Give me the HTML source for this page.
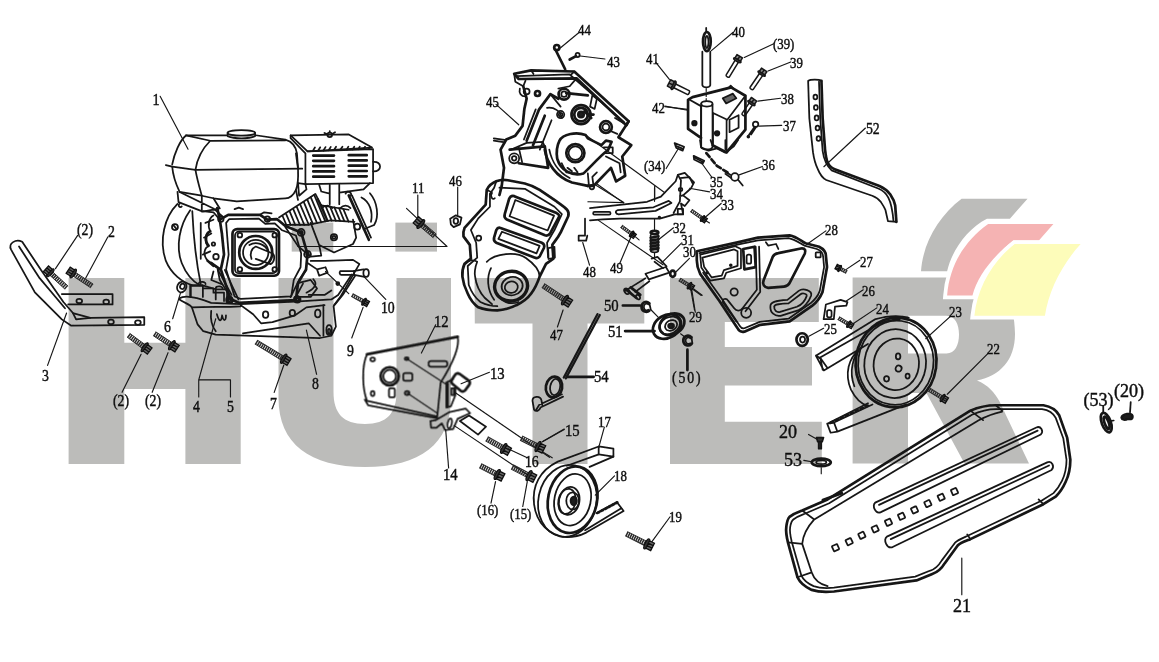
<!DOCTYPE html>
<html><head><meta charset="utf-8">
<style>
html,body{margin:0;padding:0;background:#fff;}
body{width:1159px;height:662px;overflow:hidden;font-family:"Liberation Serif",serif;}
svg{display:block;position:absolute;left:0;top:0;}
.wm{fill:#bcbcba;stroke:none;}
.p{fill:none;stroke:#151515;stroke-width:1.75;stroke-linecap:round;stroke-linejoin:round;vector-effect:non-scaling-stroke;}
.p path,.p line,.p polyline,.p ellipse,.p circle,.p rect,.p polygon{vector-effect:non-scaling-stroke;}
.w{fill:#fff;}
.k{fill:#1a1a1a;}
.t{stroke-width:2.7;}
.h{stroke-width:1.15;}
text{font-family:"Liberation Serif",serif;fill:#111;stroke:#111;stroke-width:0.45;transform-box:fill-box;transform-origin:0 50%;transform:scaleX(0.95);}
text.n{transform:scaleX(0.85);}
</style></head><body>
<svg width="1159" height="662" viewBox="0 0 1159 662">
<defs>
<filter id="soft" x="0" y="0" width="1159" height="662" filterUnits="userSpaceOnUse"><feGaussianBlur stdDeviation="0.4"/></filter>
</defs>
<!-- WATERMARK -->
<g class="wm">
<path d="M68.6 278H124.3V342.7H185.4V278H240.7V464H185.4V389H124.3V464H68.6Z"/>
<rect x="291.7" y="222.6" width="41.6" height="29"/>
<rect x="395.4" y="222.6" width="41.6" height="29"/>
<path d="M278.5 278H333.5V392C333.5 413 343 424 365 424C387 424 396.5 413 396.5 392V278H451V398C451 444 420 467 365 467C310 467 278.5 444 278.5 398Z"/>
<path d="M474.5 278H644.3V323.5H587.5V464H532.5V323.5H474.8Z"/>
<path d="M670 278H818.8V322H724.8V347H812V385.5H724.8V421.8H821.8V464H670Z"/>
<path fill-rule="evenodd" d="M852.6 277.5H970C1000 277.5 1015 300 1015 334C1015 360 1000 376 977 380.5C988 385 995 393 999.4 401.3L1029 463.5H964.5L926.4 393H908V463.5H852.6ZM908 315.7H946.5C955 315.7 959 324 959 334.5C959 345 955 353.4 946.5 353.4H908Z"/>
<path transform="translate(900,180) scale(0.24155)" d="M255 78H528L455 160H360C280 200 215 290 195 378H87C95 260 160 150 255 78Z"/>
</g>
<!-- logo colour blocks -->
<g transform="translate(900,180) scale(0.24155)" stroke-linejoin="miter">
<path d="M365 182H635L575 250H470C380 320 320 400 300 478H195C205 350 270 250 365 182Z" fill="#fff" stroke="#fff" stroke-width="32"/>
<path d="M365 182H635L575 250H470C380 320 320 400 300 478H195C205 350 270 250 365 182Z" fill="#f5b3b3"/>
<path d="M475 265H748C670 350 615 460 600 562H308C320 440 390 330 475 265Z" fill="#fff" stroke="#fff" stroke-width="32"/>
<path d="M475 265H748C670 350 615 460 600 562H308C320 440 390 330 475 265Z" fill="#fdfcba"/>
</g>
<g id="art" filter="url(#soft)">
<!-- engine top: region (150,90) k=4.729 -->
<g class="p" transform="translate(150,90) scale(0.21146)">
<!-- tank -->
<path d="M170 215L365 214M500 214L640 235C675 245 690 270 695 300L700 372C702 420 700 450 690 472C675 505 655 512 640 512L410 527L300 512L245 500L140 482C120 440 108 400 105 362L75 355M105 352C115 300 140 240 170 215"/>
<path d="M285 240L640 238M170 215L285 240C245 280 222 330 215 378C222 420 235 465 245 500"/>
<path d="M105 362L215 378L720 372"/>
<ellipse cx="432" cy="203" rx="65" ry="13"/>
<path d="M367 203V218C400 232 465 232 497 218V203"/>
<!-- tank support bottom -->
<path d="M130 482L135 530L250 575L330 560M245 500V575M140 482L300 560L345 600M300 512L330 560"/>
<!-- air filter -->
<path d="M665 215L940 210L1050 272L745 290Z"/>
<path d="M745 290L1055 280V440L735 445V300L665 228V215"/>
<path d="M690 300L700 372M735 445L700 440"/>
<g class="t">
<path d="M772 310H870M772 335H870M772 360H870M772 385H870M772 410H870M940 308H1025M940 333H1025M940 358H1025M940 383H1025M940 408H1025"/>
</g>
<path d="M770 288L780 272M795 287L805 271M820 286L830 270M845 285L855 269M870 284L880 268M900 283L910 268M930 282L938 268M958 281L966 268M985 280L992 268M1010 279L1017 268M1035 278L1040 268"/>
<path d="M1055 340C1098 335 1100 388 1055 385"/>
<circle cx="850" cy="212" r="11"/>
<path d="M825 203L840 210M875 200L860 209M850 195V201"/>
<!-- below air filter -->
<path d="M850 448V540M895 448V540M800 448L810 480L850 490M895 485L1010 470L1040 440"/>
<path d="M700 440L705 500L740 470L735 445M690 472L700 520"/>
<path d="M925 490A12 12 0 1 1 950 500"/>
<path class="h" d="M48 30L180 280"/>
</g>
<text class="n" x="152.5" y="105" font-size="16.7">1</text>
<!-- engine bottom: region (150,170) k=4.729 -->
<g class="p" transform="translate(150,170) scale(0.21146)">
<!-- recoil housing arcs -->
<path d="M130 160C70 220 40 330 75 430C100 490 150 530 200 545"/>
<path d="M190 190C140 260 120 360 150 440C170 490 200 525 235 545"/>
<path d="M200 195C205 300 215 420 240 540"/>
<circle cx="118" cy="270" r="14"/><path d="M110 260L127 281"/>
<!-- tank bracket -->
<path d="M140 160A8 8 0 1 0 150 172M250 195L300 200L330 235"/>
<!-- crankcase cover outer -->
<path class="t" d="M318 180L330 235L340 300L350 400L335 470L380 610L420 628L690 615L700 535L738 470L745 398L715 295L640 265L600 232L555 235L520 212L370 212L330 235"/>
<path d="M360 250L375 232L515 230L545 255L590 252L625 285L690 310L715 395L712 460L680 520L668 598L430 610L400 598L360 470L372 400L360 250"/>
<circle cx="335" cy="232" r="13"/><circle cx="555" cy="232" r="13"/><circle cx="715" cy="295" r="16"/><circle cx="715" cy="295" r="7"/>
<circle cx="745" cy="398" r="16"/><circle cx="745" cy="398" r="7"/><circle cx="695" cy="610" r="13"/><circle cx="378" cy="615" r="13"/>
<circle cx="312" cy="410" r="13"/><circle cx="300" cy="350" r="8"/>
<path d="M400 185L420 178L440 185M520 212L540 200L575 205"/>
<!-- left side bumps -->
<path class="t" d="M285 290C262 300 258 338 277 358M290 440L332 470"/>
<path d="M262 250L300 235M255 320L290 300M250 400L285 385M270 430L300 455M240 250V420"/>
<path d="M300 215C280 225 270 260 285 290C260 300 255 340 275 360C250 375 250 420 290 440L330 470"/>
<path d="M300 480L290 520L340 540M320 470L330 520L380 600"/>
<!-- central flange -->
<rect x="390" y="280" width="220" height="220" rx="22" class="t"/>
<rect x="402" y="292" width="196" height="196" rx="18"/>
<circle cx="500" cy="390" r="78" class="t"/><circle cx="500" cy="390" r="60"/>
<path d="M470 355C500 335 545 350 560 385M480 420C470 395 480 370 500 362M500 362L580 395M500 420L570 445M580 395C592 405 590 435 570 445"/>
<circle cx="425" cy="308" r="11"/><circle cx="590" cy="308" r="11"/><circle cx="425" cy="470" r="11"/><circle cx="590" cy="470" r="11"/>
<!-- fins -->
<g style="stroke-width:1.75"><path d="M628 220L645 260M644 209L666 260M661 197L687 260M678 186L709 260M694 174L730 260M710 163L751 259M727 151L770 255M744 140L790 251M760 128L810 247M776 117L829 243M793 135L838 241M810 165L841 241M830 170L859 239M852 174L879 240M872 177L899 241M894 181L919 242M914 184L939 244"/></g>
<path d="M610 225L782 113L810 167L939 188M632 260H746L853 238L967 245"/>
<!-- head block -->
<path d="M760 250L800 355L870 390L960 350L975 320L960 235M640 270L700 360L760 410L810 405L800 355"/>
<circle cx="870" cy="318" r="15"/><circle cx="870" cy="318" r="7"/>
<circle cx="980" cy="268" r="14"/>
<path d="M812 180C830 165 850 165 862 180M900 180C915 165 935 165 948 180"/>
<path class="t" d="M940 120L1035 330"/>
<path d="M955 120L1045 320M1040 110C1075 150 1085 220 1060 260L1010 280M1000 130C1040 150 1055 200 1045 245"/>
<!-- long leader line (11) -->
<!-- lower right: lever, pipe 10 -->
<path d="M760 430L830 430L960 425L990 445L900 600L870 640M745 440L790 470L830 460M790 470L800 500L840 485L830 460M700 535L760 520L790 560L760 600L700 600"/>
<path d="M900 478H960L1010 470M905 496H965L1015 505M900 478A8 10 0 0 0 905 496"/>
<ellipse cx="1022" cy="487" rx="13" ry="18"/>
<path d="M965 478V496"/>
<path class="h" d="M830 480L940 585"/>
<circle cx="888" cy="537" r="7" class="k"/>
<!-- mount left -->
<path d="M190 545H250V560H300V580H350V620M190 545V600M250 560V600M300 580L345 580"/>
</g>
<!-- base plate: region (150,270) k=4.4115 -->
<g class="p" transform="translate(150,270) scale(0.22668)">
<path d="M130 125C150 112 200 118 270 145L400 150L640 140L800 130L830 110L890 20"/>
<path d="M130 130C150 145 175 150 185 165L210 240L235 270L290 285L750 300L800 290L820 250L810 160L850 110L905 25"/>
<path d="M185 165C250 160 330 165 400 160M400 155L455 195L490 235L540 230L640 200L690 165L770 155"/>
<path d="M410 280L700 235L750 290M765 155V290M270 180C265 220 275 250 290 270"/>
<ellipse cx="510" cy="197" rx="12" ry="14"/><ellipse cx="628" cy="190" rx="12" ry="14"/><ellipse cx="740" cy="192" rx="12" ry="17"/>
<ellipse cx="790" cy="265" rx="12" ry="22"/><ellipse cx="790" cy="270" rx="5" ry="10"/>
<path d="M295 195C305 230 315 230 318 200M318 200C325 230 335 225 335 200"/>
<!-- mounts -->
<path d="M180 120V70H240M240 70L290 85V130M290 85H340V130M215 60A14 8 0 1 1 245 62M290 80A14 8 0 1 1 320 82"/>
<circle cx="350" cy="132" r="14"/><circle cx="650" cy="130" r="14"/><circle cx="350" cy="132" r="6"/><circle cx="650" cy="130" r="6"/>
<path d="M330 0L390 130M300 0L360 110M620 120L660 40L690 0M640 125L675 60M690 100C730 80 740 60 720 40M700 110H770L800 90"/>
<!-- washer 6 -->
<ellipse cx="140" cy="75" rx="20" ry="24" transform="rotate(25 140 75)"/><ellipse cx="143" cy="72" rx="10" ry="12" transform="rotate(25 143 72)"/>
<!-- leaders -->
<g class="h">
<path d="M100 215L135 100M1040 130L945 30M890 300L940 165M735 460L690 265M548 540L590 420M215 485H355V560M215 560V485L290 215"/>
</g>
</g>
<g transform="translate(256.0,342.0) rotate(31.2)"><path d="M0 0H31.5" stroke="#2a2a2a" stroke-width="4.6" stroke-dasharray="1.5 0.7" stroke-linecap="butt" fill="none"/><path d="M0 -2.3H31.5M0 2.3H31.5" stroke="#2a2a2a" stroke-width="0.9" fill="none"/><ellipse cx="32.4" cy="0" rx="1.7" ry="5.3" fill="#333" stroke="#111" stroke-width="1.2"/><path d="M33.3 -3.9H38.6V3.9H33.3ZM33.3 -1.3H38.6M33.3 1.3H38.6" fill="#666" stroke="#111" stroke-width="1.3"/></g>
<g transform="translate(352.0,295.0) rotate(29.4)"><path d="M0 0H13.1" stroke="#2a2a2a" stroke-width="3.4" stroke-dasharray="1.5 0.7" stroke-linecap="butt" fill="none"/><path d="M0 -1.7H13.1M0 1.7H13.1" stroke="#2a2a2a" stroke-width="0.9" fill="none"/><ellipse cx="13.8" cy="0" rx="1.3" ry="3.9" fill="#333" stroke="#111" stroke-width="1.2"/><path d="M14.4 -2.9H18.4V2.9H14.4ZM14.4 -1.0H18.4M14.4 1.0H18.4" fill="#666" stroke="#111" stroke-width="1.3"/></g>
<g id="lab3">
<text class="n" x="164" y="332" font-size="16.2">6</text>
<text class="n" x="381" y="313" font-size="16.2">10</text>
<text class="n" x="347" y="356" font-size="16.2">9</text>
<text class="n" x="312" y="389" font-size="16.2">8</text>
<text class="n" x="270" y="409" font-size="16.2">7</text>
<text class="n" x="193" y="412" font-size="16.2">4</text>
<text class="n" x="227" y="412" font-size="16.2">5</text>
</g>
<!-- bracket 3: region (0,210) k=3.1538 -->
<g class="p" transform="translate(0,210) scale(0.31707)">
<path d="M35 125C25 105 50 90 70 100L130 190L200 290L230 325L285 340L455 338V362L225 365L195 345L110 260Z"/>
<path d="M195 265H355V298H215M230 325L240 345L285 340M60 115L125 215L205 310"/>
<ellipse cx="250" cy="287" rx="9" ry="7"/><ellipse cx="335" cy="290" rx="9" ry="7"/><ellipse cx="350" cy="353" rx="9" ry="7"/><ellipse cx="435" cy="355" rx="9" ry="7"/>
<g class="h"><path d="M245 80L175 185M340 85L270 215M150 490L210 325M385 575L445 455M480 575L530 450"/></g>
</g>
<g transform="translate(66.6,287.7) rotate(-137.3)"><path d="M0 0H21.2" stroke="#2a2a2a" stroke-width="4.4" stroke-dasharray="1.5 0.7" stroke-linecap="butt" fill="none"/><path d="M0 -2.2H21.2M0 2.2H21.2" stroke="#2a2a2a" stroke-width="0.9" fill="none"/><ellipse cx="22.1" cy="0" rx="1.7" ry="5.1" fill="#333" stroke="#111" stroke-width="1.2"/><path d="M23.0 -3.7H28.0V3.7H23.0ZM23.0 -1.2H28.0M23.0 1.2H28.0" fill="#666" stroke="#111" stroke-width="1.3"/></g>
<g transform="translate(92.0,286.0) rotate(-146.4)"><path d="M0 0H21.7" stroke="#2a2a2a" stroke-width="4.4" stroke-dasharray="1.5 0.7" stroke-linecap="butt" fill="none"/><path d="M0 -2.2H21.7M0 2.2H21.7" stroke="#2a2a2a" stroke-width="0.9" fill="none"/><ellipse cx="22.6" cy="0" rx="1.7" ry="5.1" fill="#333" stroke="#111" stroke-width="1.2"/><path d="M23.5 -3.7H28.6V3.7H23.5ZM23.5 -1.2H28.6M23.5 1.2H28.6" fill="#666" stroke="#111" stroke-width="1.3"/></g>
<g transform="translate(128.4,335.2) rotate(36.6)"><path d="M0 0H19.4" stroke="#2a2a2a" stroke-width="4.6" stroke-dasharray="1.5 0.7" stroke-linecap="butt" fill="none"/><path d="M0 -2.3H19.4M0 2.3H19.4" stroke="#2a2a2a" stroke-width="0.9" fill="none"/><ellipse cx="20.3" cy="0" rx="1.7" ry="5.3" fill="#333" stroke="#111" stroke-width="1.2"/><path d="M21.2 -3.9H26.5V3.9H21.2ZM21.2 -1.3H26.5M21.2 1.3H26.5" fill="#666" stroke="#111" stroke-width="1.3"/></g>
<g transform="translate(154.4,333.7) rotate(33.4)"><path d="M0 0H19.9" stroke="#2a2a2a" stroke-width="4.6" stroke-dasharray="1.5 0.7" stroke-linecap="butt" fill="none"/><path d="M0 -2.3H19.9M0 2.3H19.9" stroke="#2a2a2a" stroke-width="0.9" fill="none"/><ellipse cx="20.9" cy="0" rx="1.7" ry="5.3" fill="#333" stroke="#111" stroke-width="1.2"/><path d="M21.8 -3.9H27.1V3.9H21.8ZM21.8 -1.3H27.1M21.8 1.3H27.1" fill="#666" stroke="#111" stroke-width="1.3"/></g>
<g>
<text class="n" x="77" y="235" font-size="16.2">(2)</text>
<text class="n" x="108" y="237" font-size="16.2">2</text>
<text class="n" x="42" y="381" font-size="16.2">3</text>
<text class="n" x="113" y="406" font-size="16.2">(2)</text>
<text class="n" x="145" y="406" font-size="16.2">(2)</text>
</g>
<!-- plate 12..16, spring 54: region (350,310) k=4.4115 -->
<g class="p" transform="translate(350,310) scale(0.22668)">
<path class="t" d="M75 195L475 118"/>
<path d="M475 118C485 160 450 240 400 320L385 470L75 400C55 350 50 250 75 195M65 395L80 420L385 478V470"/>
<circle cx="175" cy="292" r="40" class="t"/><circle cx="175" cy="292" r="28"/>
<ellipse cx="100" cy="218" rx="10" ry="8"/><ellipse cx="250" cy="215" rx="8" ry="6"/><ellipse cx="100" cy="368" rx="8" ry="11"/><ellipse cx="252" cy="366" rx="10" ry="9"/>
<rect x="235" y="278" width="40" height="34" rx="9"/><rect x="172" y="345" width="26" height="40" rx="6"/><rect x="347" y="225" width="82" height="25" rx="10"/>
<path class="h" d="M250 215L420 325M252 366L385 455"/>
<!-- 13 -->
<path class="t" d="M465 284C470 278 478 278 484 282L522 310C530 316 530 324 526 330L508 354C502 360 494 360 488 356L452 326C446 320 446 312 450 306Z"/>
<path d="M425 320V430L445 425L465 375V340M425 320L455 305M447 345H458V375H447Z"/>
<path class="t" d="M430 325V425"/>
<!-- 14 -->
<path d="M355 490L380 485L440 450L510 435L530 455L475 480L455 525L420 530L405 500L380 520H358Z"/>
<ellipse cx="440" cy="500" rx="9" ry="22" transform="rotate(12 440 500)"/>
<path d="M485 490L525 465L600 515L565 550Z"/>
<path class="h" d="M465 365L880 650M460 510L812 747"/>
<!-- spring 54 -->
<path style="stroke-width:2.2" d="M1092 18L943 298M1102 22L952 302"/>
<ellipse cx="900" cy="340" rx="36" ry="46" class="t" transform="rotate(10 900 340)"/><ellipse cx="905" cy="340" rx="22" ry="36" transform="rotate(10 905 340)"/>
<path d="M935 372L835 418L820 442M940 382L840 430M805 400C805 380 840 375 845 400L848 420M805 400L812 440C820 450 835 445 840 432"/>
<g class="h"><path d="M378 65L315 190M615 275L490 325M945 525L850 580M940 0L915 75"/></g>
<path class="t" d="M1075 295H958"/>
</g>
<g transform="translate(521.1,438.1) rotate(26.5)"><path d="M0 0H17.9" stroke="#2a2a2a" stroke-width="4.8" stroke-dasharray="1.5 0.7" stroke-linecap="butt" fill="none"/><path d="M0 -2.4H17.9M0 2.4H17.9" stroke="#2a2a2a" stroke-width="0.9" fill="none"/><ellipse cx="18.9" cy="0" rx="1.8" ry="5.5" fill="#333" stroke="#111" stroke-width="1.2"/><path d="M19.8 -4.1H25.4V4.1H19.8ZM19.8 -1.4H25.4M19.8 1.4H25.4" fill="#666" stroke="#111" stroke-width="1.3"/></g>
<g transform="translate(486.7,438.8) rotate(29.6)"><path d="M0 0H18.7" stroke="#2a2a2a" stroke-width="4.8" stroke-dasharray="1.5 0.7" stroke-linecap="butt" fill="none"/><path d="M0 -2.4H18.7M0 2.4H18.7" stroke="#2a2a2a" stroke-width="0.9" fill="none"/><ellipse cx="19.6" cy="0" rx="1.8" ry="5.5" fill="#333" stroke="#111" stroke-width="1.2"/><path d="M20.6 -4.1H26.1V4.1H20.6ZM20.6 -1.4H26.1M20.6 1.4H26.1" fill="#666" stroke="#111" stroke-width="1.3"/></g>
<g>
<text class="n" x="434" y="327" font-size="17.3">12</text>
<text class="n" x="490" y="379" font-size="17.3">13</text>
<text class="n" x="565" y="436" font-size="17.3">15</text>
<text class="n" x="594" y="382" font-size="17.3">54</text>
<text class="n" x="550" y="340" font-size="15.1">47</text>
</g>
<!-- pulley 17/18: region (440,400) k=4.4115 -->
<g class="p" transform="translate(440,400) scale(0.22668)">
<!-- belt -->
<path d="M700 205L765 215V250L700 240ZM700 205L520 272C440 310 405 380 415 460C425 540 480 600 560 605C600 605 625 595 645 585L810 490L780 450L690 500"/>
<path d="M765 250L660 295M700 240L560 290M640 575L800 478"/>
<path class="t" d="M695 498L782 452" stroke-dasharray="2 2.2"/>
<!-- pulley -->
<ellipse cx="562" cy="445" rx="128" ry="160" transform="rotate(12 562 445)"/>
<ellipse cx="585" cy="440" rx="108" ry="148" transform="rotate(12 585 440)" class="t"/>
<ellipse cx="585" cy="440" rx="80" ry="115" transform="rotate(12 585 440)"/>
<ellipse cx="570" cy="445" rx="45" ry="62" transform="rotate(12 570 445)"/>
<ellipse cx="560" cy="447" rx="38" ry="56" transform="rotate(12 560 447)"/>
<ellipse cx="590" cy="445" rx="14" ry="19" class="k"/>
<ellipse cx="585" cy="445" rx="28" ry="38"/>
<g class="h"><path d="M548 130L450 185M725 120L700 210M385 255L300 215M38 300L25 130M770 335L685 420M225 455L245 360M365 470L385 360M1015 515L935 625M455 230L495 255"/></g>
</g>
<g transform="translate(480.3,465.7) rotate(27.5)"><path d="M0 0H18.1" stroke="#2a2a2a" stroke-width="4.8" stroke-dasharray="1.5 0.7" stroke-linecap="butt" fill="none"/><path d="M0 -2.4H18.1M0 2.4H18.1" stroke="#2a2a2a" stroke-width="0.9" fill="none"/><ellipse cx="19.1" cy="0" rx="1.8" ry="5.5" fill="#333" stroke="#111" stroke-width="1.2"/><path d="M20.1 -4.1H25.6V4.1H20.1ZM20.1 -1.4H25.6M20.1 1.4H25.6" fill="#666" stroke="#111" stroke-width="1.3"/></g>
<g transform="translate(512.1,466.9) rotate(27.5)"><path d="M0 0H18.1" stroke="#2a2a2a" stroke-width="4.8" stroke-dasharray="1.5 0.7" stroke-linecap="butt" fill="none"/><path d="M0 -2.4H18.1M0 2.4H18.1" stroke="#2a2a2a" stroke-width="0.9" fill="none"/><ellipse cx="19.1" cy="0" rx="1.8" ry="5.5" fill="#333" stroke="#111" stroke-width="1.2"/><path d="M20.1 -4.1H25.6V4.1H20.1ZM20.1 -1.4H25.6M20.1 1.4H25.6" fill="#666" stroke="#111" stroke-width="1.3"/></g>
<g transform="translate(626.3,533.7) rotate(26.7)"><path d="M0 0H22.0" stroke="#2a2a2a" stroke-width="4.8" stroke-dasharray="1.5 0.7" stroke-linecap="butt" fill="none"/><path d="M0 -2.4H22.0M0 2.4H22.0" stroke="#2a2a2a" stroke-width="0.9" fill="none"/><ellipse cx="22.9" cy="0" rx="1.8" ry="5.5" fill="#333" stroke="#111" stroke-width="1.2"/><path d="M23.9 -4.1H29.4V4.1H23.9ZM23.9 -1.4H29.4M23.9 1.4H29.4" fill="#666" stroke="#111" stroke-width="1.3"/></g>
<g>
<text class="n" x="598" y="427" font-size="15.1">17</text>
<text class="n" x="525" y="467" font-size="16.2">16</text>
<text class="n" x="443" y="480" font-size="17.3">14</text>
<text class="n" x="614" y="481" font-size="15.1">18</text>
<text class="n" x="477" y="515" font-size="15.1">(16)</text>
<text class="n" x="510" y="519" font-size="15.1">(15)</text>
<text class="n" x="669" y="522" font-size="15.1">19</text>
</g>
<!-- housing 45 top: region (470,50) k=4.4136 -->
<g class="p" transform="translate(470,50) scale(0.22657)">
<!-- top frame -->
<path class="t" d="M195 105L270 90L460 95L700 315L690 332L470 125L215 128Z"/>
<path d="M205 115L440 108L680 318M195 105L200 140L235 160L245 135M470 125L440 160L390 170M270 90L280 105M460 95L445 110"/>
<path d="M540 200L560 215L550 260L530 250ZM640 300L690 330L700 315"/>
<!-- left jagged outline -->
<path class="t" d="M235 160L250 215L240 260L232 335L200 378L160 395L135 440L150 520L140 600L130 640"/>
<path d="M220 170C215 190 225 205 245 205"/>
<path d="M105 390L160 398M105 400L155 408"/>
<circle cx="250" cy="183" r="13"/><circle cx="298" cy="192" r="11" class="t"/>
<!-- ribs -->
<path class="t" d="M305 262L250 400M330 290L278 420M305 262L355 195L390 215"/>
<path d="M360 310L308 440M355 195L400 250M290 262L238 395M340 255C370 250 400 270 405 300"/>
<circle cx="195" cy="478" r="22"/><circle cx="195" cy="478" r="10"/>
<path class="t" d="M175 440L330 425L345 520L215 500"/>
<path d="M215 430L230 495M250 410L320 405L330 425M180 440L250 410"/>
<!-- gears -->
<circle cx="490" cy="285" r="42" class="t"/><circle cx="490" cy="285" r="30" class="t"/><circle cx="490" cy="285" r="14" class="k"/>
<path class="t" d="M505 270L535 300M520 285H545"/>
<circle cx="415" cy="195" r="24" class="t"/><circle cx="415" cy="195" r="12"/>
<path class="t" d="M425 190L520 200"/>
<circle cx="400" cy="285" r="16"/><circle cx="400" cy="285" r="8"/>
<circle cx="600" cy="340" r="26" class="t"/><circle cx="600" cy="340" r="15"/>
<path d="M615 355L650 370"/>
<!-- big boss -->
<path class="t" d="M395 400C410 370 470 360 510 375L520 390L580 420L600 400L625 405L610 440C560 480 530 520 500 545C450 560 400 530 385 480C380 450 385 420 395 400Z"/>
<circle cx="465" cy="455" r="40" class="t"/><circle cx="465" cy="455" r="30"/>
<path class="t" d="M330 440C340 500 380 560 450 585L520 600"/>
<path d="M350 440C360 490 390 540 440 565"/>
<path d="M405 500L425 540L470 545M430 520L450 535M460 520L475 540"/>
<!-- right side -->
<path class="t" d="M700 315L655 385L712 420L672 470L685 555L645 580L622 520L545 600L520 600"/>
<path d="M590 430H630V455H595M600 470L660 500L665 540M545 600L540 560L560 540M520 545L525 600"/>
<circle cx="538" cy="605" r="10"/>
<!-- long leader to 34 -->
<g class="h"><path d="M510 375L860 630M115 240L215 330M820 55L880 130M860 250L960 262M815 600V660"/></g>
<!-- 43 -->
<circle cx="475" cy="22" r="9"/><path class="t" d="M440 42L468 27"/>
<!-- 44 shaft -->
<path class="t" d="M378 0L420 85"/>
<!-- (34) clip -->
</g>
<g transform="translate(689.0,93.0) rotate(-153.4)" fill="none" stroke="#151515" stroke-width="1.5" stroke-linejoin="round"><path d="M16.5 -2.1H1C-0.5 -2.1 -0.5 2.1 1 2.1H16.5"/><ellipse cx="17.3" cy="0" rx="1.5" ry="4.6" fill="#444"/><path d="M18.2 -3.6H22.4V3.6H18.2ZM18.2 0H22.4" fill="#888"/></g>
<g>
<text class="n" x="486" y="107" font-size="15.1">45</text>
<text class="n" x="607" y="67" font-size="15.1">43</text>
<text class="n" x="646" y="64" font-size="15.1">41</text>
<text class="n" x="652" y="113" font-size="15.1">42</text>
<text class="n" x="644" y="171" font-size="15.1">(34)</text>
</g>
<!-- housing 45 cover: region (440,170) k=4.4136 -->
<!-- cover: region (455,175) k=4.725 -->
<g class="p" transform="translate(455,175) scale(0.21164)">
<path class="t" d="M195 30C215 22 235 22 250 25L330 40C360 48 380 58 400 70L480 125C505 142 520 152 530 165C538 175 538 185 535 195L500 270C488 295 470 315 460 330L465 395L430 420L400 480C388 515 375 540 360 560C340 588 318 602 290 615C260 630 230 638 200 640C165 640 135 635 110 625C88 610 72 588 60 560C45 530 38 505 35 480C33 455 38 435 45 420L75 395L70 330L40 290C38 275 40 262 45 250L100 190L145 140L150 70C160 50 175 38 195 30Z"/>
<path d="M210 60L330 65L470 150L505 185L470 260L435 320L440 390M165 90V150L110 205L75 260L100 320L105 390L60 430L65 520C80 560 100 585 120 600C150 615 175 620 200 620"/>
<path d="M195 30L185 60L165 90M150 70L170 80M175 85A8 12 0 1 0 188 110"/>
<path class="t" d="M280 100L480 180C492 186 494 192 490 200L450 275C444 285 435 288 425 285L245 210C234 204 232 195 235 185L255 115C260 102 268 97 280 100Z"/>
<path d="M285 118L468 192L438 262L258 195Z"/>
<path class="t" d="M215 250L410 320C422 326 424 335 420 345L400 385C394 393 385 394 375 390L195 320C184 314 182 305 185 295L195 260C200 250 206 247 215 250Z"/>
<path d="M222 268L400 335L385 370L205 302Z"/>
<circle cx="112" cy="298" r="12"/>
<path d="M440 345L470 340L472 390L442 397Z"/>
<path d="M150 410C190 370 290 360 335 392C375 420 400 450 400 480M50 420C62 402 88 398 105 410C92 440 92 470 95 480C100 520 118 555 140 580L175 610"/>
<path d="M170 440C150 480 150 540 185 590"/>
<ellipse cx="265" cy="525" rx="78" ry="70" style="stroke-width:3.4" transform="rotate(-12 265 525)"/>
<ellipse cx="270" cy="525" rx="50" ry="43" transform="rotate(-12 270 525)"/>
<ellipse cx="266" cy="530" rx="31" ry="27" transform="rotate(-12 266 530)"/>
<path d="M200 560C215 600 260 615 300 600"/>
</g>
<g class="p" transform="translate(440,170) scale(0.22657)">
<!-- 46 -->
<path d="M45 215L70 200L95 210L88 240L60 252L48 240Z"/><ellipse cx="70" cy="225" rx="10" ry="13"/>
<!-- 48 -->
<path d="M640 215V290H612V312H645L650 290"/>
<g class="h"><path d="M690 60L810 145M78 75V200M660 420L630 320"/></g>
</g>
<g transform="translate(543.1,285.6) rotate(33.6)"><path d="M0 0H25.2" stroke="#2a2a2a" stroke-width="4.8" stroke-dasharray="1.5 0.7" stroke-linecap="butt" fill="none"/><path d="M0 -2.4H25.2M0 2.4H25.2" stroke="#2a2a2a" stroke-width="0.9" fill="none"/><ellipse cx="26.2" cy="0" rx="1.8" ry="5.5" fill="#333" stroke="#111" stroke-width="1.2"/><path d="M27.2 -4.1H32.7V4.1H27.2ZM27.2 -1.4H32.7M27.2 1.4H32.7" fill="#666" stroke="#111" stroke-width="1.3"/></g>
<g>
<text class="n" x="449" y="186" font-size="15.1">46</text>
<text class="n" x="583" y="277" font-size="15.1">48</text>
<text class="n" x="610" y="273" font-size="15.1">49</text>
</g>
<!-- bracket 42 etc: region (640,20) k=4.4115 -->
<g class="p" transform="translate(640,20) scale(0.22668)">
<!-- pin 40 -->
<ellipse cx="295" cy="95" rx="17" ry="42" class="t"/><ellipse cx="295" cy="97" rx="7" ry="27"/>
<path d="M275 140V288C280 300 305 300 310 288V140M292 35V50"/>
<path class="h" d="M292 302V360" stroke-dasharray="3 2"/>
<!-- bracket 42 -->
<path class="t" d="M215 350L232 340L402 297L465 334V484L382 584L322 554M269 520L212 480V352"/>
<path d="M465 334L385 440L322 410M269 380L215 350M322 410V554M382 584V440M269 380V520"/>
<ellipse cx="295" cy="370" rx="25" ry="12"/>
<path d="M270 370V560C275 575 315 575 320 560V372"/>
<path d="M365 345L410 325L425 345L380 368Z" fill="#666"/>
<circle cx="240" cy="455" r="10" class="k"/><circle cx="340" cy="500" r="10" class="k"/>
<path d="M395 440L435 420V475L395 495Z"/>
<path d="M390 300L400 290L410 300"/>
<!-- cotter 37 -->
<circle cx="510" cy="460" r="12"/><path d="M505 472L475 515M512 472L490 505"/>
<circle cx="478" cy="515" r="4" class="k"/>
<!-- (34) clip, 35 -->
<g class="h"><path d="M410 55L315 135M590 105L460 165M665 185L565 225M620 345L520 358M625 465L525 468M110 380L210 398"/></g>
</g>
<g transform="translate(727.3,76.7) rotate(-58.7)" fill="none" stroke="#151515" stroke-width="1.5" stroke-linejoin="round"><path d="M18.6 -1.9H1C-0.5 -1.9 -0.5 1.9 1 1.9H18.6"/><ellipse cx="19.3" cy="0" rx="1.3" ry="4.2" fill="#444"/><path d="M20.1 -3.2H23.9V3.2H20.1ZM20.1 0H23.9" fill="#888"/></g>
<g transform="translate(751.1,89.1) rotate(-55.7)" fill="none" stroke="#151515" stroke-width="1.5" stroke-linejoin="round"><path d="M17.9 -1.9H1C-0.5 -1.9 -0.5 1.9 1 1.9H17.9"/><ellipse cx="18.7" cy="0" rx="1.3" ry="4.2" fill="#444"/><path d="M19.4 -3.2H23.2V3.2H19.4ZM19.4 0H23.2" fill="#888"/></g>
<g transform="translate(743.1,115.2) rotate(-55.6)" fill="none" stroke="#151515" stroke-width="1.5" stroke-linejoin="round"><path d="M14.0 -1.9H1C-0.5 -1.9 -0.5 1.9 1 1.9H14.0"/><ellipse cx="14.7" cy="0" rx="1.3" ry="4.2" fill="#444"/><path d="M15.5 -3.2H19.3V3.2H15.5ZM15.5 0H19.3" fill="#888"/></g>
<g>
<text class="n" x="732" y="37" font-size="15.1">40</text>
<text class="n" x="773" y="49" font-size="15.1">(39)</text>
<text class="n" x="790" y="68" font-size="15.1">39</text>
<text class="n" x="781" y="104" font-size="15.1">38</text>
<text class="n" x="783" y="131" font-size="15.1">37</text>
<text class="n" x="762" y="170" font-size="15.1">36</text>
</g>
<!-- arm 34 etc: region (590,140) k=4.727 -->
<g class="p" transform="translate(590,140) scale(0.21154)">
<path d="M0 322L270 292L335 268L405 195L415 165L448 155L492 200L478 228L440 262L470 285L448 312L430 300L440 350L400 352L330 372L140 372L60 375L0 380"/>
<path d="M425 180L470 175L485 205M415 165L430 190L425 290L395 345M440 262L425 265"/>
<rect x="15" y="340" width="82" height="13" rx="6"/>
<path d="M130 332L300 318L372 288L385 298L310 335L135 352C120 350 118 336 130 332Z"/>
<rect x="420" y="228" width="16" height="12" rx="4"/><path d="M415 325H440V352H415Z"/>
<circle cx="328" cy="366" r="4" class="k"/>
<g class="h"><path d="M30 215L160 295M40 380L345 590M305 225V290M305 375V425M305 535V560M-10 292L160 296"/></g>
<!-- spring 32 -->
<ellipse cx="305" cy="437" rx="18" ry="8" class="t"/>
<path d="M287 450V520M323 450V520"/>
<path class="t" d="M287 462L323 455M287 476L323 469M287 490L323 483M287 504L323 497M287 518L323 511"/>
<ellipse cx="305" cy="524" rx="18" ry="7"/>
<!-- (34) clip -->
<path d="M400 15L445 32L438 50L408 38Z"/><path d="M405 28L440 42"/>
<!-- 35 -->
<path d="M490 75L540 98L532 112L492 92Z"/><path d="M496 84L534 104"/>
<!-- 36 -->
<path class="t" d="M550 62L600 122L660 160" stroke-dasharray="5 3"/>
<circle cx="685" cy="175" r="18"/><path d="M665 165L640 150M700 188L722 215M668 180L640 160"/>
<!-- 42 bottom bits -->
<path d="M520 0L525 35L560 50L600 40L640 60L680 30L700 0M570 0L580 30M640 0V45"/>
<!-- 31 lever bottom -->
<g class="h"><path d="M360 135L415 45M575 175L525 105M565 245L470 228M620 300L545 365M395 415L325 470M430 490L340 580M470 560L400 630M815 125L705 165M140 585L195 455M215 458L232 472M548 382L565 392"/></g>
</g>
<g transform="translate(691.1,210.4) rotate(35.1)"><path d="M0 0H13.4" stroke="#2a2a2a" stroke-width="3.0" stroke-dasharray="1.5 0.7" stroke-linecap="butt" fill="none"/><path d="M0 -1.5H13.4M0 1.5H13.4" stroke="#2a2a2a" stroke-width="0.9" fill="none"/><ellipse cx="14.0" cy="0" rx="1.1" ry="3.4" fill="#333" stroke="#111" stroke-width="1.2"/><path d="M14.6 -2.5H18.1V2.5H14.6ZM14.6 -0.8H18.1M14.6 0.8H18.1" fill="#666" stroke="#111" stroke-width="1.3"/></g>
<g transform="translate(621.3,226.3) rotate(36.5)"><path d="M0 0H12.2" stroke="#2a2a2a" stroke-width="3.0" stroke-dasharray="1.5 0.7" stroke-linecap="butt" fill="none"/><path d="M0 -1.5H12.2M0 1.5H12.2" stroke="#2a2a2a" stroke-width="0.9" fill="none"/><ellipse cx="12.8" cy="0" rx="1.1" ry="3.4" fill="#333" stroke="#111" stroke-width="1.2"/><path d="M13.4 -2.5H16.8V2.5H13.4ZM13.4 -0.8H16.8M13.4 0.8H16.8" fill="#666" stroke="#111" stroke-width="1.3"/></g>
<g>
<text class="n" x="710" y="187" font-size="15.1">35</text>
<text class="n" x="710" y="199" font-size="15.1">34</text>
<text class="n" x="721" y="210" font-size="15.1">33</text>
<text class="n" x="673" y="233" font-size="15.1">32</text>
<text class="n" x="681" y="245" font-size="15.1">31</text>
<text class="n" x="683" y="257" font-size="15.1">30</text>
</g>
<!-- 29,30,31,50,51: region (590,250) k=4.415 -->
<g class="p" transform="translate(590,250) scale(0.2265)">
<path d="M245 105L335 75L350 100L260 130ZM245 125L180 165L155 180M262 138L200 185"/>
<path class="t" d="M160 175L205 212M180 165L222 198"/>
<ellipse cx="163" cy="182" rx="10" ry="14" transform="rotate(-40 163 182)"/>
<ellipse cx="212" cy="208" rx="8" ry="11" transform="rotate(-40 212 208)"/>
<ellipse cx="365" cy="105" rx="11" ry="14" class="t"/>
<path d="M272 38L298 30L338 72M285 52L322 80"/>
<!-- clip 50 -->
<path class="t" d="M262 235C245 222 225 235 228 255C230 272 250 278 262 268"/>
<path d="M258 240C248 232 236 240 238 255C240 266 250 270 258 264M262 235L268 262"/>
<!-- pulley 51 -->
<ellipse cx="340" cy="338" rx="66" ry="50" transform="rotate(-30 340 338)" class="t"/>
<ellipse cx="362" cy="328" rx="58" ry="44" transform="rotate(-30 362 328)" class="t"/>
<ellipse cx="352" cy="333" rx="48" ry="36" transform="rotate(-30 352 333)"/>
<ellipse cx="358" cy="333" rx="28" ry="22" transform="rotate(-30 358 333)"/>
<ellipse cx="358" cy="335" rx="13" ry="10" class="k"/>
<!-- clip (50) -->
<path class="t" d="M448 385C432 370 410 382 412 402C414 420 435 428 448 415"/>
<path d="M444 390C434 380 420 388 422 402C424 414 436 418 444 412M448 385L452 412"/>
<path class="t" d="M145 245H220M155 358H285M430 440V530"/>
<g class="h"><path d="M450 180L465 275M270 265L300 295M400 370L420 385M458 172L495 200"/></g>
</g>
<g transform="translate(679.5,279.4) rotate(32.3)"><path d="M0 0H11.1" stroke="#2a2a2a" stroke-width="3.2" stroke-dasharray="1.5 0.7" stroke-linecap="butt" fill="none"/><path d="M0 -1.6H11.1M0 1.6H11.1" stroke="#2a2a2a" stroke-width="0.9" fill="none"/><ellipse cx="11.8" cy="0" rx="1.2" ry="3.7" fill="#333" stroke="#111" stroke-width="1.2"/><path d="M12.4 -2.7H16.1V2.7H12.4ZM12.4 -0.9H16.1M12.4 0.9H16.1" fill="#666" stroke="#111" stroke-width="1.3"/></g>
<g>
<text class="n" x="604" y="311" font-size="17.3">50</text>
<text class="n" x="608" y="337" font-size="17.3">51</text>
<text class="n" x="689" y="322" font-size="15.1">29</text>
<text class="n" x="672" y="383" font-size="16.2" style="letter-spacing:2.2px">(50)</text>
</g>
<!-- cover 28: region (690,215) k=4.415 -->
<g class="p" transform="translate(690,215) scale(0.2265)">
<path class="t" d="M30 160L215 120L300 100L440 90C470 95 490 115 510 125L570 140C590 150 600 165 600 180L605 230L585 340C575 365 560 385 540 400L440 470L310 485L240 515C225 518 215 510 210 500L130 380L45 260C35 240 30 220 30 200Z"/>
<path d="M42 168L215 130L300 112L435 102C465 108 485 125 505 135L560 150C580 158 588 170 588 185L592 230L573 335C565 358 550 375 532 390L435 458L308 472L240 500C232 502 225 498 220 490L142 372L58 255"/>
<path d="M45 175L200 138L225 150V235L160 255L150 280L90 290L50 232ZM55 188L195 152L210 160V225L150 243L140 268L95 275L62 228Z"/>
<path class="t" d="M235 150L285 140L290 230L240 240Z"/><rect x="250" y="175" width="20" height="40" rx="8"/>
<path class="t" d="M390 168L495 147C508 147 512 158 507 170L440 300C435 310 425 315 415 316L345 322C328 320 318 305 325 288L365 185C370 175 378 170 390 168Z"/>
<path d="M355 402C355 385 375 378 430 375L480 335C500 320 540 335 535 355C525 385 500 410 480 420L400 445C375 450 352 430 355 402Z"/>
<path d="M372 405C372 395 385 392 435 390L488 350C498 343 518 348 515 358C508 378 490 398 472 405L398 428C382 432 370 420 372 405Z"/>
<path d="M290 140L295 330L232 412C222 425 205 425 195 412L168 378C160 365 140 370 145 385L205 470M305 140L310 340L245 425"/>
<circle cx="195" cy="340" r="16"/><circle cx="248" cy="432" r="22"/><rect x="555" y="165" width="22" height="22" rx="3"/>
<circle cx="75" cy="255" r="4" class="k"/><circle cx="180" cy="222" r="4" class="k"/>
<path d="M335 120L345 135L380 128L390 150"/>
<!-- 26 -->
<path d="M600 395L665 375L695 385L690 400L640 405L635 460H590Z"/><rect x="605" y="420" width="20" height="32" rx="8"/>
<!-- washer 25 -->
<ellipse cx="495" cy="550" rx="25" ry="28" class="t"/><ellipse cx="497" cy="550" rx="11" ry="13"/>
<g class="h"><path d="M600 70L515 130M750 200L690 240M765 330L690 380M825 410L720 480M590 500L525 535M15 330L50 355M0 310L20 420"/></g>
</g>
<g transform="translate(846.7,272.1) rotate(-152.6)"><path d="M0 0H7.3" stroke="#2a2a2a" stroke-width="3.0" stroke-dasharray="1.5 0.7" stroke-linecap="butt" fill="none"/><path d="M0 -1.5H7.3M0 1.5H7.3" stroke="#2a2a2a" stroke-width="0.9" fill="none"/><ellipse cx="7.9" cy="0" rx="1.1" ry="3.4" fill="#333" stroke="#111" stroke-width="1.2"/><path d="M8.5 -2.5H11.9V2.5H8.5ZM8.5 -0.8H11.9M8.5 0.8H11.9" fill="#666" stroke="#111" stroke-width="1.3"/></g>
<g transform="translate(838.4,318.1) rotate(30.3)"><path d="M0 0H11.5" stroke="#2a2a2a" stroke-width="3.2" stroke-dasharray="1.5 0.7" stroke-linecap="butt" fill="none"/><path d="M0 -1.6H11.5M0 1.6H11.5" stroke="#2a2a2a" stroke-width="0.9" fill="none"/><ellipse cx="12.1" cy="0" rx="1.2" ry="3.7" fill="#333" stroke="#111" stroke-width="1.2"/><path d="M12.8 -2.7H16.4V2.7H12.8ZM12.8 -0.9H16.4M12.8 0.9H16.4" fill="#666" stroke="#111" stroke-width="1.3"/></g>
<g>
<text class="n" x="825" y="235" font-size="15.1">28</text>
<text class="n" x="860" y="267" font-size="15.1">27</text>
<text class="n" x="862" y="296" font-size="15.1">26</text>
<text class="n" x="876" y="314" font-size="15.1">24</text>
<text class="n" x="824" y="334" font-size="15.1">25</text>
</g>
<!-- pulley 23 + belt: region (800,290) k=4.4136 -->
<g class="p" transform="translate(800,290) scale(0.22657)">
<ellipse cx="424" cy="320" rx="178" ry="198" class="t" transform="rotate(8 424 320)"/>
<ellipse cx="423" cy="321" rx="166" ry="186" transform="rotate(8 423 321)"/>
<ellipse cx="420" cy="325" rx="136" ry="152" transform="rotate(8 420 325)"/>
<ellipse cx="425" cy="328" rx="100" ry="114" transform="rotate(8 425 328)"/>
<ellipse cx="433" cy="293" rx="10" ry="13"/><ellipse cx="435" cy="347" rx="13" ry="14" transform="rotate(30 435 347)"/><ellipse cx="382" cy="392" rx="11" ry="12"/><ellipse cx="475" cy="380" rx="9" ry="11"/>
<!-- belt upper strand -->
<path d="M480 122C440 112 380 115 330 130L70 290L105 355L122 345L300 238M85 300L350 150C380 135 410 130 440 130M70 290L90 300L122 345M90 300L100 352"/>
<!-- back loop -->
<path d="M262 262C215 300 195 370 225 440C245 480 275 505 300 512M275 250C232 290 215 360 240 425"/>
<!-- lower strand -->
<path d="M300 500L120 590L135 630L165 625L470 505M120 590L150 585L165 625M150 585L320 505"/>
<path class="t" d="M135 586L310 505" stroke-dasharray="2.5 3"/>
<g class="h"><path d="M830 280L650 460M665 115L555 215"/></g>
</g>
<g transform="translate(929.1,389.7) rotate(31.6)"><path d="M0 0H15.2" stroke="#2a2a2a" stroke-width="3.6" stroke-dasharray="1.5 0.7" stroke-linecap="butt" fill="none"/><path d="M0 -1.8H15.2M0 1.8H15.2" stroke="#2a2a2a" stroke-width="0.9" fill="none"/><ellipse cx="15.9" cy="0" rx="1.4" ry="4.1" fill="#333" stroke="#111" stroke-width="1.2"/><path d="M16.6 -3.1H20.8V3.1H16.6ZM16.6 -1.0H20.8M16.6 1.0H20.8" fill="#666" stroke="#111" stroke-width="1.3"/></g>
<g>
<text class="n" x="949" y="317" font-size="15.1">23</text>
<text class="n" x="987" y="354" font-size="15.1">22</text>
</g>
<!-- belt cover 21: region (780,390) k=3.1516 -->
<g class="p" transform="translate(780,390) scale(0.3173)">
<path class="t" d="M30 400C45 388 60 384 70 380L150 345L600 65C630 52 655 48 680 48H830C855 52 872 65 880 80L905 150L915 220C915 250 910 270 900 290C890 312 880 325 870 335L830 360L600 470C580 478 568 482 560 490L520 545C508 565 495 575 480 580L430 600L170 635C140 638 118 636 100 630C78 620 62 605 55 590L25 480C20 460 18 445 20 430C22 415 25 405 30 400Z"/>
<path d="M42 408C55 398 68 394 78 390L155 357L605 78C635 64 658 60 682 60H826C848 63 862 74 869 88L893 153L903 220C903 248 898 267 889 286C880 305 871 316 862 325L824 349L595 458C575 467 560 472 551 482L510 537C499 555 488 565 474 569L426 588L170 623C142 626 122 624 106 618C86 609 73 597 67 584L37 478C32 458 30 445 32 432C34 420 37 412 42 408Z"/>
<path d="M70 380L108 408L625 96C655 80 680 72 700 68M108 408C88 430 72 460 70 485L100 575C108 598 125 612 150 618M25 480L70 485M55 590L100 575M600 65L640 95M680 48L700 65M830 360L815 345M600 470L590 455"/>
<!-- slots -->
<path d="M300 355L808 118C822 112 832 130 822 140L318 385C300 392 290 365 300 355ZM312 362L812 128"/>
<path d="M337 462L842 228C858 222 866 242 856 252L355 495C336 502 325 472 337 462ZM349 470L848 238"/>
<g transform="rotate(-25 175 497)"><rect x="166" y="488" width="18" height="18" rx="2"/></g>
<g transform="rotate(-25 218 478)"><rect x="209" y="469" width="18" height="18" rx="2"/></g>
<g transform="rotate(-25 258 458)"><rect x="249" y="449" width="18" height="18" rx="2"/></g>
<g transform="rotate(-25 300 438)"><rect x="291" y="429" width="18" height="18" rx="2"/></g>
<g transform="rotate(-25 342 417)"><rect x="333" y="408" width="18" height="18" rx="2"/></g>
<g transform="rotate(-25 383 398)"><rect x="374" y="389" width="18" height="18" rx="2"/></g>
<g transform="rotate(-25 424 378)"><rect x="415" y="369" width="18" height="18" rx="2"/></g>
<g transform="rotate(-25 466 358)"><rect x="457" y="349" width="18" height="18" rx="2"/></g>
<g transform="rotate(-25 508 338)"><rect x="499" y="329" width="18" height="18" rx="2"/></g>
<g transform="rotate(-25 550 320)"><rect x="541" y="311" width="18" height="18" rx="2"/></g>
<path class="t" d="M135 347L195 325"/>
<!-- 20 / 53 -->
<ellipse cx="130" cy="228" rx="30" ry="12" class="t"/><ellipse cx="130" cy="228" rx="16" ry="6"/>
<path d="M115 150H137L133 163H119ZM122 163V185H130V163" fill="#333"/>
<g class="h"><path d="M573 530V645M90 140L118 156M75 222L100 226"/><path d="M130 245V278" stroke-dasharray="6 5"/></g>
</g>
<g>
<text x="953" y="612" font-size="19">21</text>
<text x="779" y="438" font-size="19">20</text>
<text x="784" y="466" font-size="19">53</text>
</g>
<!-- handle 52: region (790,70) k=4.1357 -->
<g class="p" transform="translate(790,70) scale(0.2418)">
<path d="M75 45C85 38 120 38 130 45M75 45L80 200L95 340C100 375 110 400 115 410C125 435 140 450 150 455L340 520C360 528 370 538 375 545C385 560 392 570 395 580L405 625L440 628"/>
<path class="t" d="M130 45L135 200L145 330C148 355 150 370 155 380C162 398 172 405 185 410L370 480C392 490 405 502 415 515C425 530 432 545 435 560L440 628"/>
<path d="M120 48L125 200L135 335C140 372 150 395 172 415L365 490C400 505 420 530 428 625"/>
<ellipse cx="105" cy="112" rx="8" ry="10"/><ellipse cx="107" cy="155" rx="8" ry="10"/><ellipse cx="110" cy="198" rx="8" ry="10"/><ellipse cx="114" cy="240" rx="8" ry="10"/><ellipse cx="118" cy="283" rx="8" ry="10"/>
<path class="h" d="M312 240L140 400"/>
</g>
<text class="n" x="866" y="134" font-size="16.2">52</text>
<!-- misc: 11, 44, 43 labels, (53)(20) -->
<g class="p">
<path class="h" d="M298 246.5H447L406.5 208.4M417.8 195V218M578.4 33L560.6 47.8M604.9 59L580.3 56"/>
<circle cx="556.8" cy="47.6" r="2.6" class="t"/>
<g transform="translate(1060,360) scale(0.13599)">
<ellipse cx="340" cy="460" rx="33" ry="75" transform="rotate(-20 340 460)" class="t"/>
<ellipse cx="343" cy="462" rx="15" ry="48" transform="rotate(-20 343 462)" class="t"/>
<path d="M450 425C455 395 530 380 535 410C540 440 520 440 500 435C480 445 455 445 450 425Z" class="k"/>
<path d="M318 340V385M520 310L515 385M370 450L395 445"/>
</g>
</g>
<g transform="translate(434.8,236.0) rotate(-139.4)"><path d="M0 0H17.5" stroke="#2a2a2a" stroke-width="4.8" stroke-dasharray="1.5 0.7" stroke-linecap="butt" fill="none"/><path d="M0 -2.4H17.5M0 2.4H17.5" stroke="#2a2a2a" stroke-width="0.9" fill="none"/><ellipse cx="18.4" cy="0" rx="1.8" ry="5.5" fill="#333" stroke="#111" stroke-width="1.2"/><path d="M19.4 -4.1H24.9V4.1H19.4ZM19.4 -1.4H24.9M19.4 1.4H24.9" fill="#666" stroke="#111" stroke-width="1.3"/></g>
<g>
<text class="n" x="412" y="193" font-size="15.1">11</text>
<text class="n" x="578" y="35" font-size="15.1">44</text>
<text x="1083.5" y="405.6" font-size="19">(53)</text>
<text x="1114" y="396.7" font-size="19">(20)</text>
</g>
</g>
</svg>
</body></html>
